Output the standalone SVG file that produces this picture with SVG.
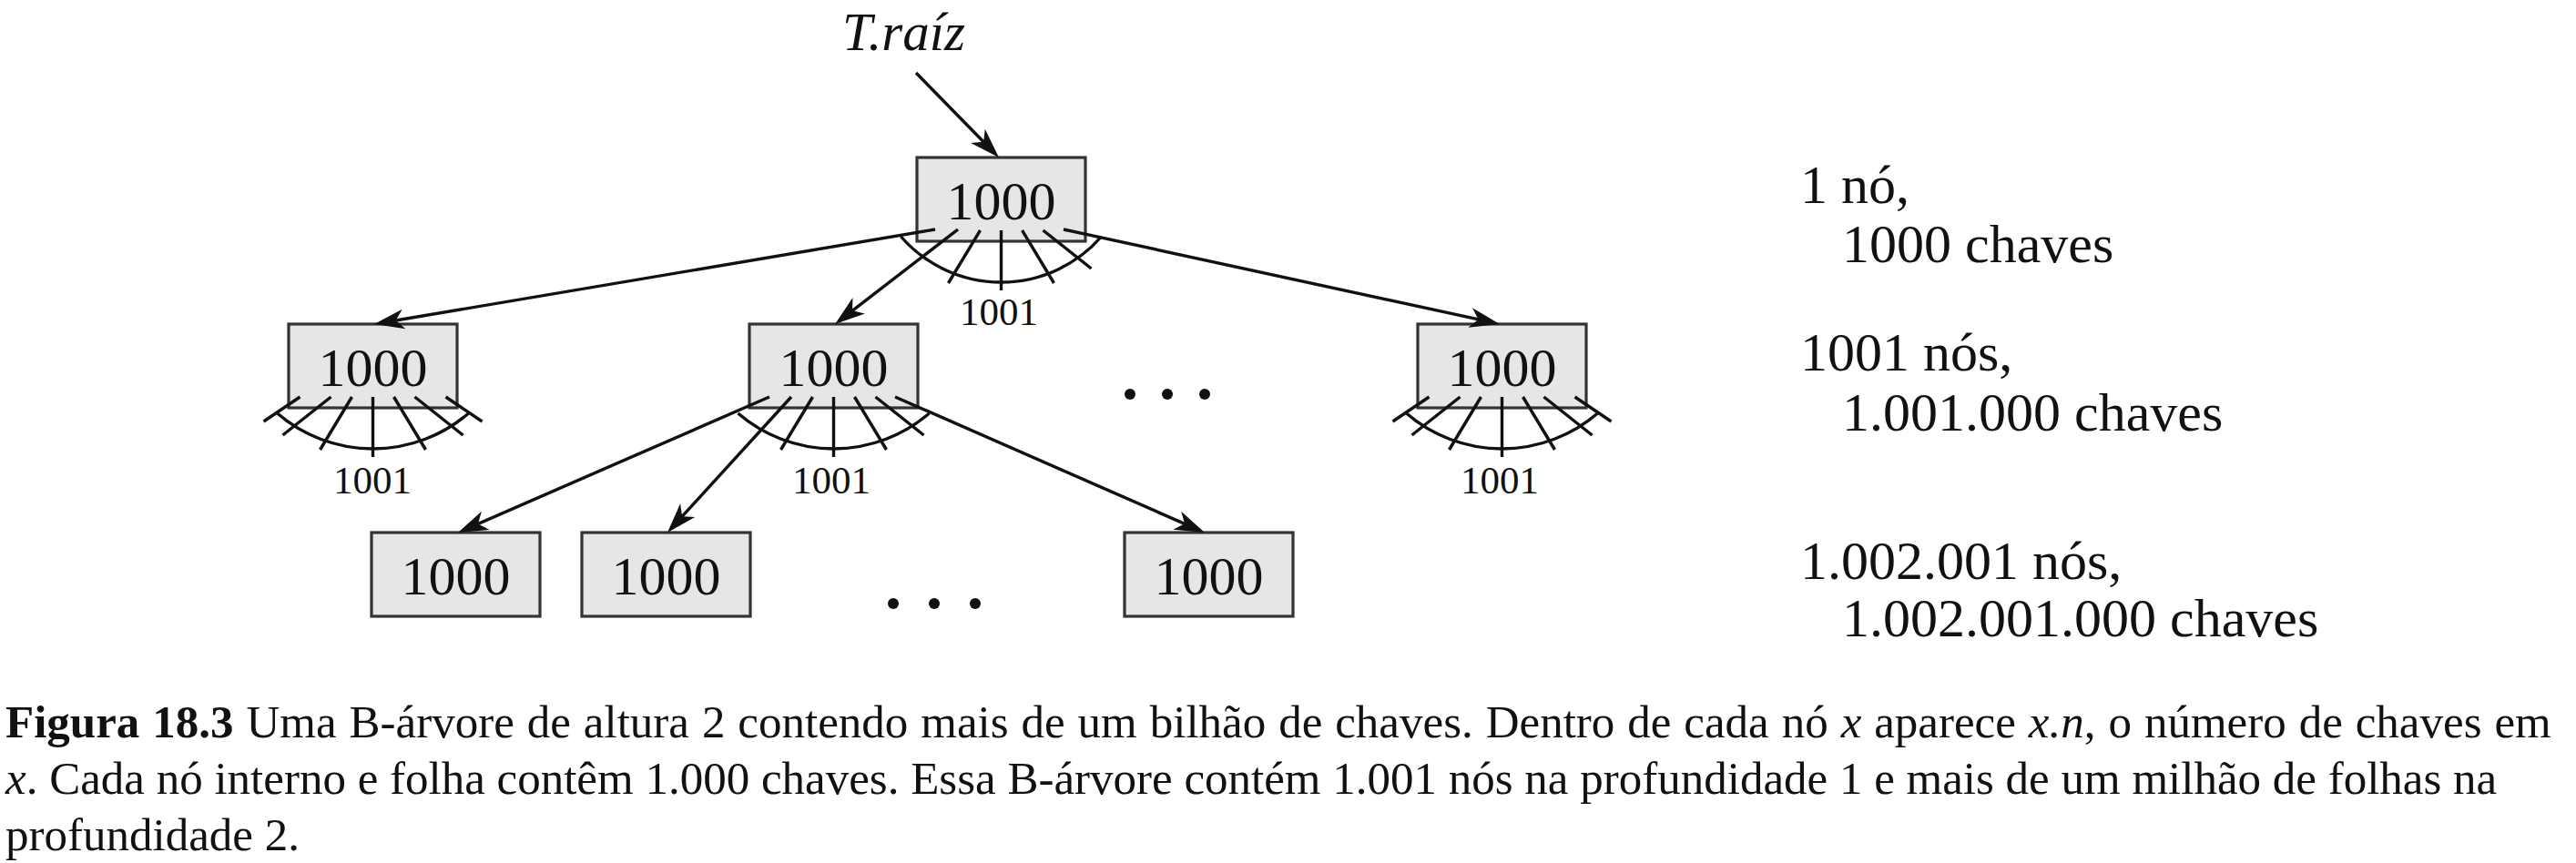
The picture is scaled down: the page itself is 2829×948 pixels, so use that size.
<svg xmlns="http://www.w3.org/2000/svg" width="2829" height="948" viewBox="0 0 2829 948">
<style>
  .box{fill:#e6e6e6;stroke:#333333;stroke-width:3.2}
  .key{font-family:"Liberation Serif","Times New Roman",serif;font-size:60px;fill:#111;text-anchor:middle}
  .cnt{font-family:"Liberation Serif","Times New Roman",serif;font-size:43px;fill:#111;text-anchor:middle}
  .side{font-family:"Liberation Serif","Times New Roman",serif;font-size:60px;fill:#111}
  .cap{font-family:"Liberation Serif","Times New Roman",serif;font-size:51px;fill:#111}
  .edge{stroke:#111;stroke-width:3.4;fill:none;marker-end:url(#ah)}
  .dot{fill:#111}
</style>
<defs>
  <marker id="ah" markerUnits="userSpaceOnUse" viewBox="-30 -14 38 28" refX="0" refY="0" markerWidth="38" markerHeight="28" orient="auto">
    <path d="M6,0 L-27,-11 L-18,0 L-27,11 Z" fill="#111"/>
  </marker>
  <g id="fanCore" stroke="#111" stroke-width="3.4" fill="none">
    <line x1="-23" y1="-12" x2="-58" y2="46"/>
    <line x1="0" y1="-12" x2="0" y2="54"/>
    <line x1="23" y1="-12" x2="58" y2="46"/>
    <line x1="46" y1="-12" x2="99" y2="30"/>
  </g>
  <g id="fanFull" stroke="#111" stroke-width="3.4" fill="none">
    <path d="M-105,6 A161,161 0 0 0 105,6"/>
    <line x1="-80" y1="-12" x2="-120" y2="15"/>
    <line x1="-46" y1="-12" x2="-99" y2="30"/>
    <line x1="80" y1="-12" x2="120" y2="15"/>
    <use href="#fanCore"/>
  </g>
</defs>

<rect width="2829" height="948" fill="#ffffff"/>

<g id="root-label">
  <text x="925" y="55" font-family="Liberation Serif, Times New Roman, serif" font-style="italic" font-size="59" fill="#111">T.raíz</text>
</g>

<g id="node-root">
  <rect class="box" x="1007" y="173" width="185" height="92"/>
  <text class="key" x="1099.5" y="241">1000</text>
  <g transform="translate(1099.5,265)" stroke="#111" stroke-width="3.4" fill="none">
    <path d="M-110,-5 A146,146 0 0 0 110,-5"/>
    <use href="#fanCore"/>
  </g>
  <text class="cnt" x="1097" y="357">1001</text>
</g>

<g id="node-l1-left">
  <rect class="box" x="317" y="356" width="185" height="92"/>
  <text class="key" x="409.5" y="424">1000</text>
  <use href="#fanFull" transform="translate(409.5,448)"/>
  <text class="cnt" x="409" y="542">1001</text>
</g>

<g id="node-l1-mid">
  <rect class="box" x="823" y="356" width="185" height="92"/>
  <text class="key" x="915.5" y="424">1000</text>
  <g transform="translate(915.5,448)" stroke="#111" stroke-width="3.4" fill="none">
    <path d="M-105,6 A161,161 0 0 0 105,6"/>
    <use href="#fanCore"/>
  </g>
  <text class="cnt" x="913" y="542">1001</text>
</g>

<g id="node-l1-right">
  <rect class="box" x="1557" y="356" width="185" height="92"/>
  <text class="key" x="1649.5" y="424">1000</text>
  <use href="#fanFull" transform="translate(1649.5,448)"/>
  <text class="cnt" x="1647" y="542">1001</text>
</g>

<g id="dots-l1">
  <circle class="dot" cx="1241" cy="433" r="6"/>
  <circle class="dot" cx="1282" cy="433" r="6"/>
  <circle class="dot" cx="1323" cy="433" r="6"/>
</g>

<g id="node-leaf1">
  <rect class="box" x="408" y="585" width="185" height="92"/>
  <text class="key" x="500.5" y="653">1000</text>
</g>
<g id="node-leaf2">
  <rect class="box" x="639" y="585" width="185" height="92"/>
  <text class="key" x="731.5" y="653">1000</text>
</g>
<g id="node-leaf3">
  <rect class="box" x="1235" y="585" width="185" height="92"/>
  <text class="key" x="1327.5" y="653">1000</text>
</g>

<g id="dots-leaves">
  <circle class="dot" cx="981" cy="663" r="6"/>
  <circle class="dot" cx="1026" cy="663" r="6"/>
  <circle class="dot" cx="1071" cy="663" r="6"/>
</g>

<g id="connectors">
  <line class="edge" x1="1006" y1="80" x2="1092.8" y2="168.7"/>
  <line class="edge" x1="1027" y1="252" x2="416.9" y2="355"/>
  <line class="edge" x1="1052" y1="252" x2="921.8" y2="352.3"/>
  <line class="edge" x1="1168" y1="252" x2="1641.1" y2="354.7"/>
  <line class="edge" x1="845" y1="436" x2="508.5" y2="582.6"/>
  <line class="edge" x1="869" y1="436" x2="737" y2="580.6"/>
  <line class="edge" x1="983" y1="436" x2="1317.5" y2="582.6"/>
</g>

<g id="level-notes">
  <text class="side" x="1977" y="223">1 nó,</text>
  <text class="side" x="2023" y="288">1000 chaves</text>
  <text class="side" x="1977" y="407">1001 nós,</text>
  <text class="side" x="2023" y="473">1.001.000 chaves</text>
  <text class="side" x="1977" y="636">1.002.001 nós,</text>
  <text class="side" x="2023" y="699">1.002.001.000 chaves</text>
</g>

<g id="caption">
  <text class="cap" x="6" y="810" word-spacing="1.2"><tspan font-weight="bold">Figura 18.3</tspan> Uma B-árvore de altura 2 contendo mais de um bilhão de chaves. Dentro de cada nó <tspan font-style="italic">x</tspan> aparece <tspan font-style="italic">x.n</tspan>, o número de chaves em</text>
  <text class="cap" x="6" y="872"><tspan font-style="italic">x</tspan>. Cada nó interno e folha contêm 1.000 chaves. Essa B-árvore contém 1.001 nós na profundidade 1 e mais de um milhão de folhas na</text>
  <text class="cap" x="6" y="934">profundidade 2.</text>
</g>
</svg>
